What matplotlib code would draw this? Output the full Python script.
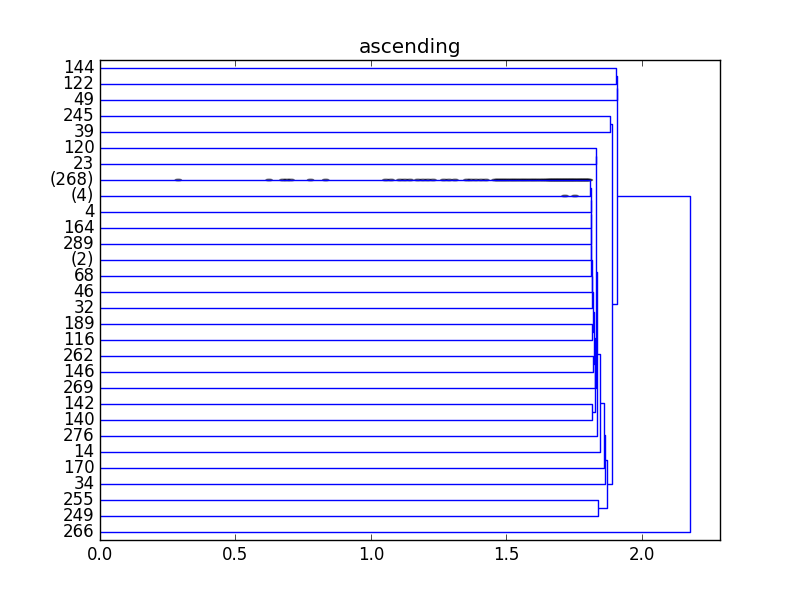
import matplotlib
matplotlib.use("Agg")
import matplotlib.pyplot as plt
from matplotlib.collections import LineCollection
from matplotlib.patches import Ellipse

# leaves, top to bottom
leaf_labels = ["144", "122", "49", "245", "39", "120", "23", "(268)", "(4)", "4",
               "164", "289", "(2)", "68", "46", "32", "189", "116", "262", "146",
               "269", "142", "140", "276", "14", "170", "34", "255", "249", "266"]

# merges: n0, n1, ... in order
link_left = ["(268)", "n0", "n1", "n2", "n3", "n4", "n5", "n6", "189", "n7",
             "262", "n9", "n11", "142", "n12", "120", "n15", "n16", "n17", "n18",
             "n19", "255", "n20", "245", "n23", "144", "n25", "n26", "n27"]
link_right = ["(4)", "4", "164", "289", "(2)", "68", "46", "32", "116", "n8",
              "146", "n10", "269", "140", "n13", "23", "n14", "276", "14", "170",
              "34", "249", "n21", "39", "n22", "122", "49", "n24", "266"]
link_height = [1.810, 1.8105, 1.811, 1.8115, 1.812, 1.8125, 1.815, 1.8155, 1.814, 1.819,
               1.821, 1.824, 1.8255, 1.817, 1.8265, 1.8305, 1.832, 1.834, 1.846, 1.861,
               1.863, 1.836, 1.870, 1.883, 1.890, 1.903, 1.908, 1.9095, 2.179]

# contraction marks (heights inside the truncated leaves)
marks_268 = [0.289, 0.624, 0.675, 0.690, 0.705, 0.777, 0.833, 1.055, 1.074, 1.107,
             1.125, 1.144, 1.173, 1.192, 1.210, 1.229, 1.269, 1.288, 1.310, 1.354,
             1.369, 1.387, 1.406, 1.424, 1.458, 1.476, 1.494, 1.513, 1.531, 1.550,
             1.568, 1.587, 1.605, 1.624, 1.642, 1.657, 1.668, 1.679, 1.690, 1.701,
             1.712, 1.723, 1.734, 1.745, 1.756, 1.768, 1.779, 1.790, 1.801,
             1.467, 1.485, 1.503, 1.522, 1.540, 1.559, 1.577, 1.596, 1.614, 1.633,
             1.650, 1.662, 1.673, 1.684, 1.695, 1.706, 1.717, 1.728, 1.739, 1.750,
             1.762, 1.773, 1.784, 1.795, 1.806]
marks_4 = [1.716, 1.753]

plt.style.use("classic")
fig, ax = plt.subplots(figsize=(8, 6), dpi=100)

ivw = len(leaf_labels) * 10
pos = {lab: ivw - 5 - 10 * i for i, lab in enumerate(leaf_labels)}
hgt = {lab: 0.0 for lab in leaf_labels}

segs = []
for k, (a, b, h) in enumerate(zip(link_left, link_right, link_height)):
    ya, yb = pos[a], pos[b]
    segs.append([(hgt[a], ya), (h, ya), (h, yb), (hgt[b], yb)])
    pos[f"n{k}"] = (ya + yb) / 2.0
    hgt[f"n{k}"] = h

dvw = max(link_height) * 1.05

for lab, xs in (("(268)", marks_268), ("(4)", marks_4)):
    for x in xs:
        e = Ellipse((x, pos[lab]), width=dvw / 100, height=1.0)
        ax.add_artist(e)
        e.set_alpha(0.5)
        e.set_facecolor("k")

ax.add_collection(LineCollection(segs, colors="b"))

ax.set_xlim(0, dvw)
ax.set_ylim(0, ivw)
ax.set_yticks([pos[lab] for lab in leaf_labels])
ax.set_yticklabels(leaf_labels)
ax.yaxis.set_ticks_position("left")
for line in ax.get_yticklines():
    line.set_visible(False)

ax.set_title("ascending")

fig.savefig("out.png", dpi=100)
